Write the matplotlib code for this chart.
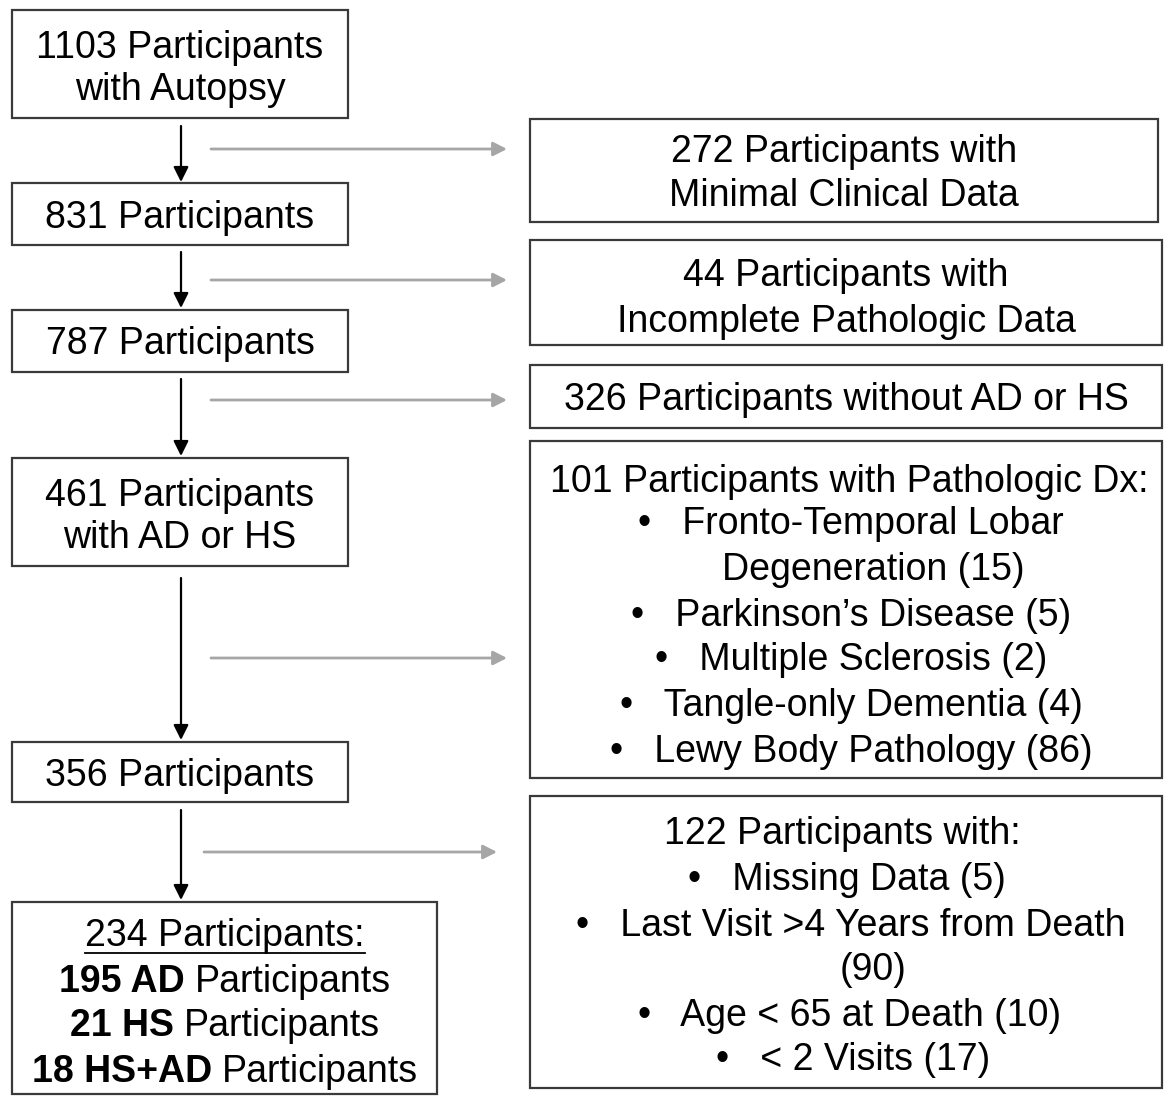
import matplotlib.pyplot as plt
from matplotlib.patches import Rectangle

plt.rcParams['font.family'] = ['Liberation Sans', 'DejaVu Sans']

# flow counts
kept_counts = [1103, 831, 787, 461, 356, 234]
excluded_counts = [272, 44, 326, 101, 122]
final_groups = ["AD", "HS", "HS+AD"]
final_counts = [195, 21, 18]
dx_items = ["Fronto-Temporal Lobar", "Parkinson\u2019s Disease", "Multiple Sclerosis",
            "Tangle-only Dementia", "Lewy Body Pathology"]
dx_counts = [15, 5, 2, 4, 86]
other_items = ["Missing Data", "Last Visit >4 Years from Death", "Age < 65 at Death", "< 2 Visits"]
other_counts = [5, 90, 10, 17]

W, H = 1164, 1098
fig = plt.figure(figsize=(W / 100, H / 100), dpi=100)
ax = fig.add_axes([0, 0, 1, 1])
ax.set_xlim(0, W)
ax.set_ylim(H, 0)
ax.axis('off')

FS = 27
EDGE = '#3a3a3a'
GRAY = '#a6a6a6'
B = "\u2022   "


def box(x0, y0, x1, y1):
    ax.add_patch(Rectangle((x0, y0), x1 - x0, y1 - y0, fill=False, ec=EDGE, lw=1.6))


def line(x, yc, s, **kw):
    return ax.text(x, yc + 13.5, s, fontsize=FS, ha='center', va='baseline', **kw)


def down(x, y0, y1):
    ax.annotate('', xy=(x, y1), xytext=(x, y0),
                arrowprops=dict(arrowstyle='-|>,head_length=0.6,head_width=0.3',
                                color='black', lw=1.6, mutation_scale=15,
                                shrinkA=0, shrinkB=0))


def side(y, x0, x1):
    ax.annotate('', xy=(x1, y), xytext=(x0, y),
                arrowprops=dict(arrowstyle='-|>,head_length=0.55,head_width=0.28',
                                color=GRAY, lw=2.0, mutation_scale=15,
                                shrinkA=0, shrinkB=0))


renderer = fig.canvas.get_renderer()


def runs_line(xc, yc, runs, gap=10):
    arts = [ax.text(0, yc + 13.5, s, fontsize=FS, fontweight=w, ha='left', va='baseline')
            for s, w in runs]
    widths = [a.get_window_extent(renderer).width for a in arts]
    total = sum(widths) + gap * (len(arts) - 1)
    x = xc - total / 2
    for a, wd in zip(arts, widths):
        a.set_x(x)
        x += wd + gap


# left column
box(12, 10, 348, 118)
line(180, 44, f"{kept_counts[0]} Participants")
line(180, 87, "with Autopsy")
box(12, 183, 348, 245)
line(180, 215, f"{kept_counts[1]} Participants")
box(12, 310, 348, 372)
line(180, 341, f"{kept_counts[2]} Participants")
box(12, 458, 348, 566)
line(180, 492, f"{kept_counts[3]} Participants")
line(180, 535, "with AD or HS")
box(12, 742, 348, 802)
line(180, 772, f"{kept_counts[4]} Participants")
box(12, 902, 437, 1094)
t = line(225, 932, f"{kept_counts[5]} Participants:")
bb = t.get_window_extent(renderer).transformed(ax.transData.inverted())
ax.plot([bb.x0, bb.x1], [953, 953], color='black', lw=1.3)
for yc, g, n in zip([978, 1023, 1068], final_groups, final_counts):
    runs_line(225, yc, [(f"{n} {g}", 'bold'), ("Participants", 'normal')])

# arrows down
down(181, 126, 182)
down(181, 252, 308)
down(181, 379, 456)
down(181, 578, 740)
down(181, 810, 900)

# side arrows
side(149, 211, 507)
side(280, 211, 507)
side(400, 211, 507)
side(658, 211, 507)
side(852, 204, 497)

# right column
box(530, 119, 1158, 222)
line(844, 148, f"{excluded_counts[0]} Participants with")
line(844, 192, "Minimal Clinical Data")
box(530, 240, 1162, 345)
line(846, 272, f"{excluded_counts[1]} Participants with")
line(846, 318, "Incomplete Pathologic Data")
box(530, 365, 1162, 428)
line(846, 397, f"{excluded_counts[2]} Participants without AD or HS")

box(530, 441, 1162, 778)
line(849, 479, f"{excluded_counts[3]} Participants with Pathologic Dx:")
line(851, 521, B + dx_items[0])
line(873, 566, f"Degeneration ({dx_counts[0]})")
for yc, s, n in zip([612, 657, 703, 749], dx_items[1:], dx_counts[1:]):
    line(851, yc, f"{B}{s} ({n})")

box(530, 796, 1162, 1088)
line(842, 830, f"{excluded_counts[4]} Participants with:")
line(847, 876, f"{B}{other_items[0]} ({other_counts[0]})")
line(851, 922, B + other_items[1])
line(873, 967, f"({other_counts[1]})")
line(850, 1012, f"{B}{other_items[2]} ({other_counts[2]})")
line(853, 1057, f"{B}{other_items[3]} ({other_counts[3]})")

fig.savefig('out.png', dpi=100, facecolor='white')
